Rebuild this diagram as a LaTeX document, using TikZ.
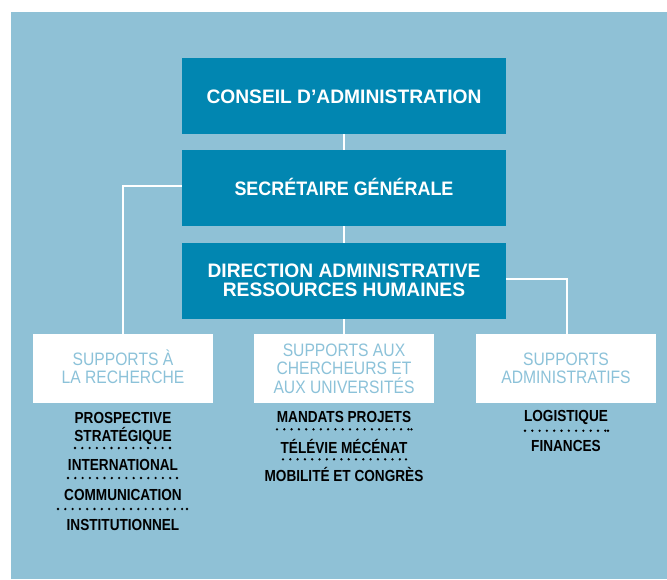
\documentclass[tikz,border=0pt]{standalone}
\usepackage{fontspec}
\setmainfont{Liberation Sans}[FakeStretch=0.92]
\newfontfamily\widefont{Liberation Sans}[FakeStretch=0.985]
\newfontfamily\suppfont{Liberation Sans}[FakeStretch=0.87]
\newfontfamily\listfont{Liberation Sans}[FakeStretch=0.85]
\definecolor{bgblue}{RGB}{143,193,214}
\definecolor{darkblue}{RGB}{1,134,177}
\definecolor{paleblue}{RGB}{140,194,217}
\tikzset{
  darkbox/.style={fill=darkblue, draw=none, minimum width=324pt, minimum height=76pt, inner sep=0pt},
  whitebox/.style={fill=white, draw=none, minimum width=180pt, minimum height=69pt, inner sep=0pt},
  titletext/.style={anchor=base, inner sep=0pt, text=white, font=\bfseries\fontsize{19.5}{19}\selectfont},
  widetitle/.style={titletext, font=\widefont\bfseries\fontsize{19.5}{19}\selectfont},
  supptext/.style={anchor=base, inner sep=0pt, text=paleblue, font=\suppfont\fontsize{18}{18}\selectfont},
  listtext/.style={anchor=base, inner sep=0pt, text=black, font=\listfont\bfseries\fontsize{16}{16}\selectfont},
  conn/.style={draw=white, line width=2pt},
  dotline/.style={draw=black, line width=2.6pt, line cap=round, dash pattern=on 0pt off 7.3pt},
  enddot/.style={fill=black},
}
\begin{document}
\begin{tikzpicture}[x=1pt, y=-1pt]
\useasboundingbox (0,0) rectangle (667,579);
\fill[bgblue] (11,12) rectangle (667,579);

% main boxes
\node[darkbox] (ca) at (344,96) {};
\node[darkbox] (sg) at (344,188) {};
\node[darkbox] (dr) at (344,281) {};

% support boxes
\node[whitebox] (bl) at (123,368.5) {};
\node[whitebox] (bm) at (344,368.5) {};
\node[whitebox] (br) at (566,368.5) {};

% connectors
\draw[conn] (ca.south) -- (sg.north);
\draw[conn] (sg.south) -- (dr.north);
\draw[conn] (dr.south) -- (bm.north);
\draw[conn] ([yshift=2.5pt]sg.west) -| (bl.north);
\draw[conn] ([yshift=2pt]dr.east) -| ([xshift=1pt]br.north);

% titles
\node[widetitle] (tca) at (344,103) {CONSEIL D’ADMINISTRATION};
\node[titletext] (tsg) at (344,195.5) {SECRÉTAIRE GÉNÉRALE};
\node[widetitle] (tdr1) at (344,277.7) {DIRECTION ADMINISTRATIVE};
\node[widetitle] (tdr2) at (344,296.7) {RESSOURCES HUMAINES};

% support titles
\node[supptext] (tbl1) at (123,365.7) {SUPPORTS À};
\node[supptext] (tbl2) at (123,383.7) {LA RECHERCHE};
\node[supptext] (tbm1) at (344,356) {SUPPORTS AUX};
\node[supptext] (tbm2) at (344,374.5) {CHERCHEURS ET};
\node[supptext] (tbm3) at (344,393) {AUX UNIVERSITÉS};
\node[supptext] (tbr1) at (566,365.7) {SUPPORTS};
\node[supptext] (tbr2) at (566,383.5) {ADMINISTRATIFS};

% left list
\node[listtext] (l1) at (123,423.3) {PROSPECTIVE};
\node[listtext] (l2) at (123,441.8) {STRATÉGIQUE};
\node[listtext] (l3) at (123,470.8) {INTERNATIONAL};
\node[listtext] (l4) at (123,500.8) {COMMUNICATION};
\node[listtext] (l5) at (123,530.8) {INSTITUTIONNEL};
\coordinate (ld1a) at (75,448);  \coordinate (ld1b) at (170,448);
\coordinate (ld2a) at (68,478);  \coordinate (ld2b) at (177,478);
\coordinate (ld3a) at (58,509);  \coordinate (ld3b) at (187,509);
\draw[dotline] (ld1a) -- (ld1b);
\draw[dotline] (ld2a) -- (ld2b);
\draw[dotline] (ld3a) -- (ld3b);
\fill[enddot] (ld1b) circle (1.3pt);
\fill[enddot] (ld2b) circle (1.3pt);
\fill[enddot] (ld3b) circle (1.3pt);

% middle list
\node[listtext] (m1) at (344,422.8) {MANDATS PROJETS};
\node[listtext] (m2) at (344,453.3) {TÉLÉVIE MÉCÉNAT};
\node[listtext] (m3) at (344,481.8) {MOBILITÉ ET CONGRÈS};
\coordinate (md1a) at (277,429.3); \coordinate (md1b) at (411.5,429.3);
\coordinate (md2a) at (283,459.3); \coordinate (md2b) at (406,459.3);
\draw[dotline] (md1a) -- (md1b);
\draw[dotline] (md2a) -- (md2b);
\fill[enddot] (md1b) circle (1.3pt);
\fill[enddot] (md2b) circle (1.3pt);

% right list
\node[listtext] (r1) at (566,421.8) {LOGISTIQUE};
\node[listtext] (r2) at (566,451.8) {FINANCES};
\coordinate (rd1a) at (525,430.7); \coordinate (rd1b) at (608,430.7);
\draw[dotline] (rd1a) -- (rd1b);
\fill[enddot] (rd1b) circle (1.3pt);
\end{tikzpicture}
\end{document}
